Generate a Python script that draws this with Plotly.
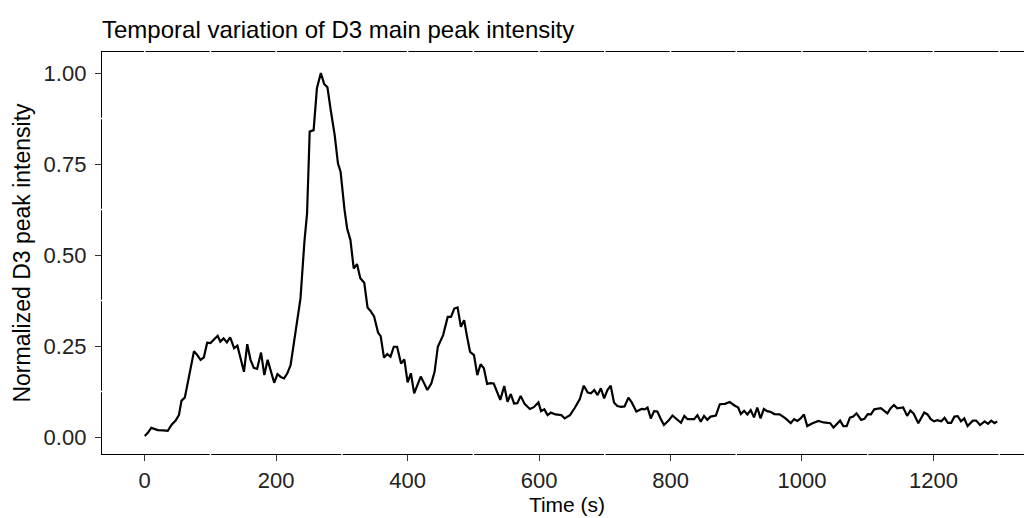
import plotly.graph_objects as go

time_s = [0, 5, 10, 15, 20, 28, 35, 41, 47, 52, 56, 61, 67, 75, 80, 85, 90, 95, 100, 105,
          111, 115, 120, 125, 130, 136, 141, 146, 151, 156, 161, 166, 171, 177, 182, 187, 192, 197, 202, 207,
          212, 217, 222, 228, 233, 237, 243, 247, 251, 257, 262, 268, 273, 278, 283, 289, 294, 298, 304, 308,
          313, 318, 323, 328, 334, 339, 344, 349, 355, 359, 364, 369, 374, 379, 384, 390, 395, 400, 405, 410,
          415, 420, 425, 430, 436, 441, 446, 454, 461, 466, 471, 476, 481, 486, 490, 495, 501, 506, 511, 516,
          521, 526, 531, 536, 541, 547, 552, 557, 562, 567, 572, 578, 586, 592, 599, 603, 608, 613, 618, 625,
          634, 639, 647, 654, 662, 668, 674, 679, 684, 689, 694, 699, 704, 709, 714, 719, 725, 730, 736, 741,
          748, 756, 761, 765, 770, 775, 780, 785, 790, 797, 803, 810, 816, 821, 826, 836, 841, 846, 851, 856,
          861, 869, 875, 883, 890, 898, 903, 907, 912, 917, 922, 927, 932, 937, 942, 947, 952, 958, 966, 975,
          983, 988, 993, 998, 1003, 1008, 1016, 1025, 1033, 1043, 1048, 1058, 1063, 1068, 1073, 1078, 1083, 1090, 1095, 1100,
          1105, 1110, 1120, 1130, 1135, 1140, 1145, 1154, 1160, 1165, 1170, 1177, 1186, 1191, 1196, 1201, 1206, 1212, 1217, 1222,
          1227, 1232, 1237, 1242, 1247, 1252, 1260, 1265, 1271, 1278, 1283, 1288, 1293, 1297]

intensity = [0.003, 0.012, 0.025, 0.022, 0.019, 0.018, 0.017, 0.034, 0.045, 0.060, 0.100, 0.108, 0.166, 0.236, 0.225, 0.212, 0.219, 0.259, 0.258, 0.266,
             0.278, 0.262, 0.271, 0.260, 0.274, 0.244, 0.251, 0.215, 0.179, 0.255, 0.212, 0.190, 0.187, 0.232, 0.170, 0.212, 0.180, 0.149, 0.173, 0.165,
             0.161, 0.175, 0.198, 0.276, 0.330, 0.381, 0.537, 0.614, 0.839, 0.843, 0.958, 1.000, 0.970, 0.961, 0.898, 0.830, 0.752, 0.729, 0.624, 0.573,
             0.541, 0.463, 0.475, 0.436, 0.424, 0.356, 0.345, 0.331, 0.287, 0.277, 0.218, 0.228, 0.221, 0.248, 0.248, 0.202, 0.213, 0.150, 0.175, 0.120,
             0.143, 0.166, 0.148, 0.129, 0.147, 0.179, 0.248, 0.280, 0.330, 0.330, 0.353, 0.356, 0.303, 0.321, 0.280, 0.234, 0.225, 0.170, 0.200, 0.189,
             0.146, 0.148, 0.147, 0.125, 0.102, 0.140, 0.097, 0.118, 0.092, 0.093, 0.113, 0.091, 0.077, 0.082, 0.095, 0.071, 0.076, 0.060, 0.067, 0.062,
             0.060, 0.051, 0.060, 0.079, 0.104, 0.141, 0.122, 0.120, 0.129, 0.115, 0.134, 0.106, 0.129, 0.141, 0.095, 0.085, 0.083, 0.084, 0.108, 0.095,
             0.070, 0.077, 0.076, 0.081, 0.051, 0.071, 0.070, 0.050, 0.033, 0.045, 0.059, 0.048, 0.039, 0.058, 0.049, 0.049, 0.060, 0.042, 0.058, 0.047,
             0.056, 0.059, 0.090, 0.091, 0.096, 0.086, 0.081, 0.063, 0.072, 0.062, 0.074, 0.054, 0.081, 0.051, 0.077, 0.071, 0.069, 0.063, 0.062, 0.051,
             0.038, 0.049, 0.044, 0.051, 0.062, 0.030, 0.038, 0.044, 0.040, 0.038, 0.026, 0.045, 0.030, 0.030, 0.053, 0.056, 0.065, 0.047, 0.050, 0.063,
             0.062, 0.076, 0.079, 0.065, 0.079, 0.088, 0.079, 0.081, 0.058, 0.073, 0.064, 0.038, 0.067, 0.062, 0.049, 0.043, 0.046, 0.043, 0.053, 0.039,
             0.039, 0.056, 0.057, 0.043, 0.051, 0.030, 0.045, 0.045, 0.033, 0.043, 0.036, 0.045, 0.038, 0.043]

x_ticks = [0, 200, 400, 600, 800, 1000, 1200]
y_ticks = [0.0, 0.25, 0.5, 0.75, 1.0]
y_tick_labels = ["0.00", "0.25", "0.50", "0.75", "1.00"]
x_gaps_top = list(range(0, 1400, 100))
x_gaps_bottom = [100, 300, 500, 700, 900, 1100, 1300]
y_gaps_left = [0.125, 0.375, 0.625, 0.875]

XR = [-65, 1350]
YR = [-0.0467, 1.0577]

fig = go.Figure()
fig.add_trace(go.Scatter(x=time_s, y=intensity, mode="lines",
                         line=dict(color="black", width=2.2), showlegend=False,
                         hoverinfo="x+y"))

shapes = []
for gx in x_gaps_top:
    shapes.append(dict(type="line", xref="x", yref="paper", x0=gx, x1=gx, y0=0.985, y1=1.02,
                       line=dict(color="white", width=1.5), layer="above"))
for gx in x_gaps_bottom:
    shapes.append(dict(type="line", xref="x", yref="paper", x0=gx, x1=gx, y0=-0.01, y1=0.015,
                       line=dict(color="white", width=1.5), layer="above"))
for gy in y_gaps_left:
    shapes.append(dict(type="line", xref="paper", yref="y", x0=-0.005, x1=0.01, y0=gy, y1=gy,
                       line=dict(color="white", width=1.5), layer="above"))

font_family = "Liberation Sans, Arial, sans-serif"
W, H = 1024, 510
fig.update_layout(
    width=W, height=H,
    margin=dict(l=94, r=0, t=44, b=64),
    paper_bgcolor="white", plot_bgcolor="white",
    shapes=shapes,
    title=dict(text="Temporal variation of D3 main peak intensity", x=94/W, xanchor="left",
               y=1-22/H, yanchor="middle", font=dict(family=font_family, size=24, color="black")),
    font=dict(family=font_family, color="black"),
    xaxis=dict(range=XR, tickvals=x_ticks, ticktext=[str(v) for v in x_ticks],
               showgrid=False, zeroline=False, showline=True, linecolor="black", linewidth=1.3,
               mirror=True, ticks="outside", ticklen=6, tickwidth=1.3, tickcolor="#333333",
               tickfont=dict(size=22, color="#222222", family=font_family),
               title=dict(text="Time (s)", font=dict(size=21, color="black", family=font_family), standoff=2)),
    yaxis=dict(range=YR, tickvals=y_ticks, ticktext=y_tick_labels,
               showgrid=False, zeroline=False, showline=True, linecolor="black", linewidth=1.3,
               mirror=False, ticks="outside", ticklen=6, tickwidth=1.3, tickcolor="#333333",
               ticklabelstandoff=4,
               tickfont=dict(size=22, color="#222222", family=font_family),
               title=dict(text="Normalized D3 peak intensity", font=dict(size=23, color="black", family=font_family), standoff=6)),
)

fig.write_html("out.html")
